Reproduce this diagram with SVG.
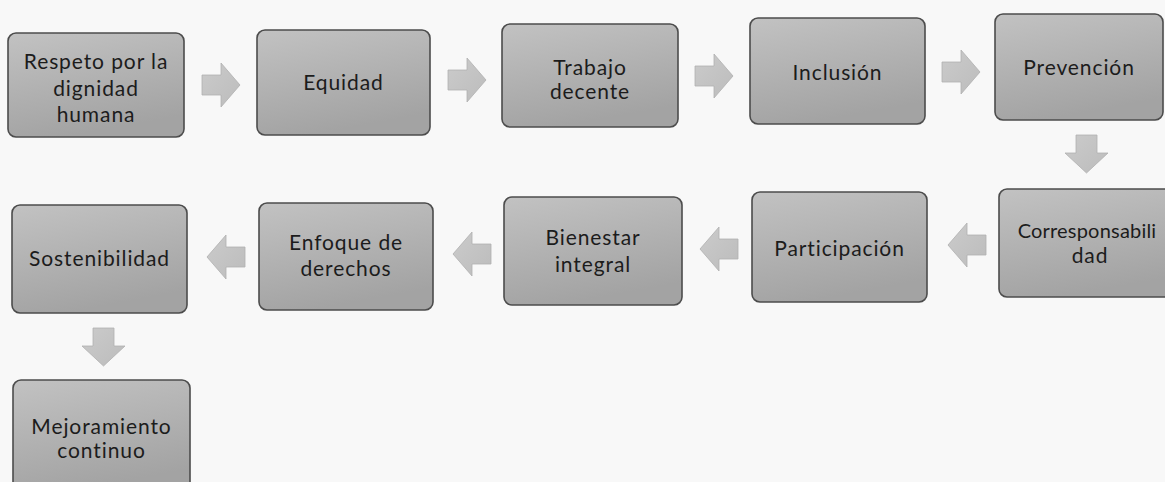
<svg xmlns="http://www.w3.org/2000/svg" width="1165" height="482" viewBox="0 0 1165 482">
<defs>
<linearGradient id="boxg" x1="0" y1="0" x2="0.3" y2="1">
<stop offset="0" stop-color="#c2c2c2"/>
<stop offset="1" stop-color="#a3a3a3"/>
</linearGradient>
<linearGradient id="arrg" x1="0" y1="0" x2="1" y2="1">
<stop offset="0" stop-color="#cbcbcb"/>
<stop offset="1" stop-color="#bcbcbc"/>
</linearGradient>
<path id="arR" d="M0,12 H19 V0 L38,22 L19,44 V32 H0 Z"/>
<path id="arL" d="M38,12 H19 V0 L0,22 L19,44 V32 H38 Z"/>
<path id="arD" d="M11,0 H32 V18 H43 L21.5,38 L0,18 H11 Z"/>
</defs>
<style>
.box{fill:url(#boxg);stroke:#4c4c4c;stroke-width:1.6}
.lbl{font-family:Lato,"Liberation Sans",sans-serif;font-size:21px;fill:#1c1c1c;text-anchor:middle;letter-spacing:0.9px}
.tight{font-size:20px;letter-spacing:0.2px}
.arr{fill:url(#arrg);stroke:#b0b0b0;stroke-width:0.8}
</style>
<rect x="0" y="0" width="1165" height="482" fill="#f8f8f8"/>

<g id="connectors">
<use href="#arR" class="arr" x="202" y="63"/>
<use href="#arR" class="arr" x="448" y="58"/>
<use href="#arR" class="arr" x="695" y="54"/>
<use href="#arR" class="arr" x="942" y="50"/>
<use href="#arD" class="arr" x="1065" y="135"/>
<use href="#arL" class="arr" x="948" y="223"/>
<use href="#arL" class="arr" x="700" y="227"/>
<use href="#arL" class="arr" x="453" y="232"/>
<use href="#arL" class="arr" x="207" y="235"/>
<use href="#arD" class="arr" x="82" y="328"/>
</g>

<g id="n1"><rect class="box" x="8" y="33" width="176" height="104" rx="8"/>
<text class="lbl" x="96" y="69">Respeto por la</text><text class="lbl" x="96" y="96">dignidad</text><text class="lbl" x="96" y="122">humana</text></g>
<g id="n2"><rect class="box" x="257" y="30" width="173" height="105" rx="8"/>
<text class="lbl" x="343.5" y="90">Equidad</text></g>
<g id="n3"><rect class="box" x="502" y="24" width="176" height="103" rx="8"/>
<text class="lbl" x="590" y="75">Trabajo</text><text class="lbl" x="590" y="99">decente</text></g>
<g id="n4"><rect class="box" x="750" y="18" width="175" height="106" rx="8"/>
<text class="lbl" x="837.5" y="80">Inclusión</text></g>
<g id="n5"><rect class="box" x="995" y="14" width="168" height="106" rx="8"/>
<text class="lbl" x="1079" y="75">Prevención</text></g>
<g id="n6"><rect class="box" x="999" y="189" width="190" height="108" rx="8"/>
<text class="lbl tight" x="1087" y="238">Corresponsabili</text><text class="lbl" x="1090" y="263">dad</text></g>
<g id="n7"><rect class="box" x="752" y="192" width="175" height="110" rx="8"/>
<text class="lbl" x="839.5" y="256">Participación</text></g>
<g id="n8"><rect class="box" x="504" y="197" width="178" height="108" rx="8"/>
<text class="lbl" x="593" y="245">Bienestar</text><text class="lbl" x="593" y="272">integral</text></g>
<g id="n9"><rect class="box" x="259" y="203" width="174" height="107" rx="8"/>
<text class="lbl" x="346" y="250">Enfoque de</text><text class="lbl" x="346" y="276">derechos</text></g>
<g id="n10"><rect class="box" x="12" y="205" width="175" height="108" rx="8"/>
<text class="lbl" x="99.5" y="266">Sostenibilidad</text></g>
<g id="n11"><rect class="box" x="13" y="380" width="177" height="112" rx="8"/>
<text class="lbl" x="101.5" y="434">Mejoramiento</text><text class="lbl" x="101.5" y="458">continuo</text></g>
</svg>
